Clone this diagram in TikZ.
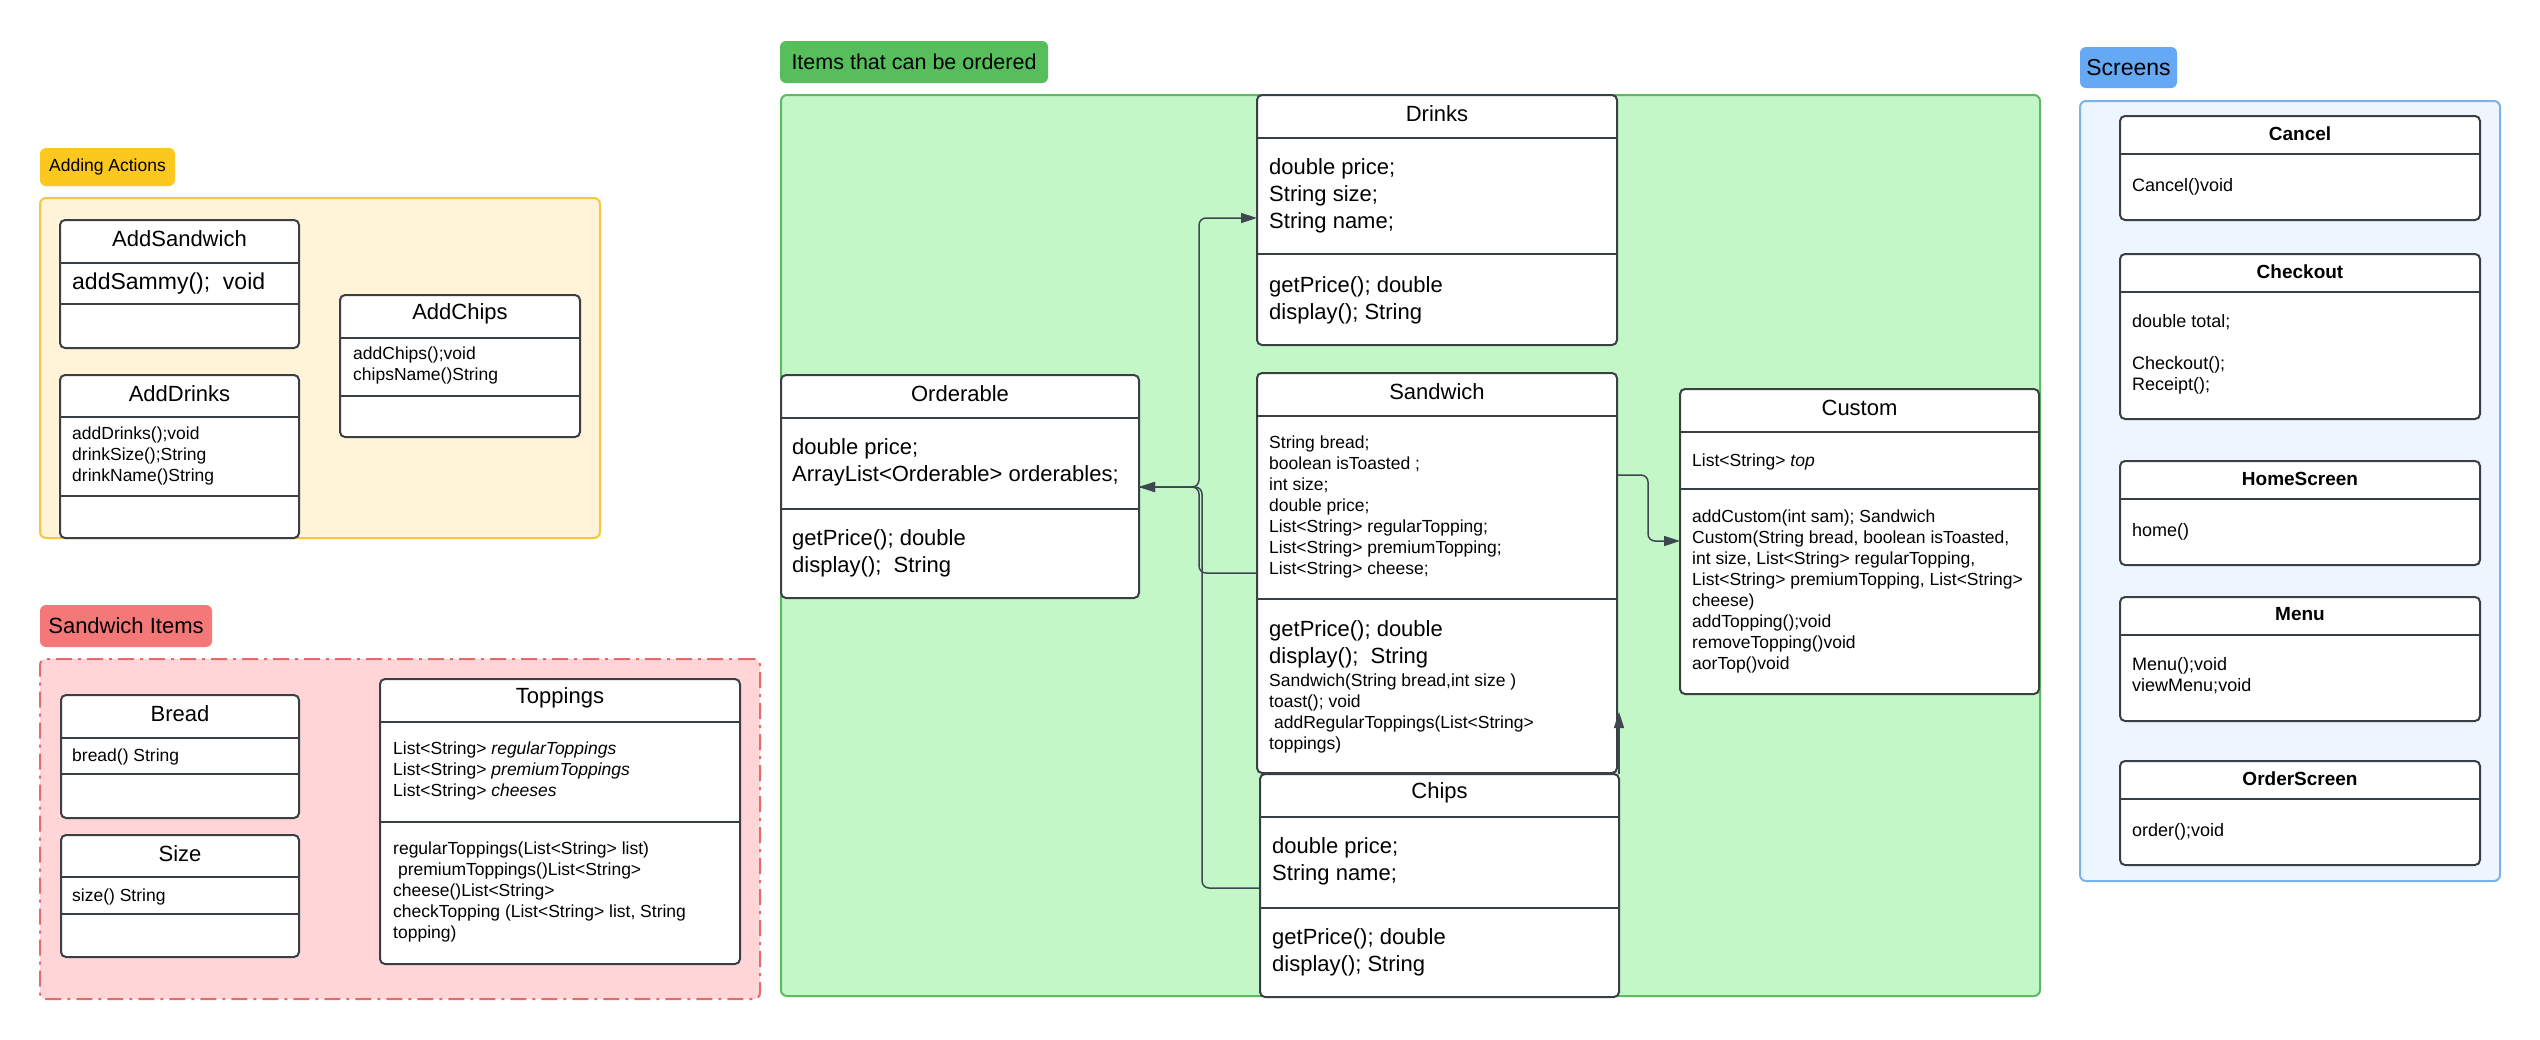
\documentclass[tikz,border=0pt]{standalone}
\usepackage{fontspec}
\setmainfont{Liberation Sans}
\usetikzlibrary{arrows.meta}
\definecolor{boxc}{HTML}{3A3F44}
\definecolor{connc}{HTML}{3E4750}
\definecolor{ylab}{HTML}{FAC81E}
\definecolor{yfill}{HTML}{FFF3D8}
\definecolor{ybord}{HTML}{F6C83C}
\definecolor{rlab}{HTML}{F57878}
\definecolor{rfill}{HTML}{FFD5D8}
\definecolor{rbord}{HTML}{E36B6B}
\definecolor{glab}{HTML}{57BE5C}
\definecolor{gfill}{HTML}{C3F7C8}
\definecolor{gbord}{HTML}{5DBA63}
\definecolor{blab}{HTML}{65A9F5}
\definecolor{bfill}{HTML}{EDF5FF}
\definecolor{bbord}{HTML}{7BB3E9}
\newcommand{\ubox}[5]{\node[ubox, minimum width={(#4-#2)*1pt}, minimum height={(#5-#3)*1pt}] (#1) at ({(#2+#4)/2},{(#3+#5)/2}) {};}
\newcommand{\udiv}[2]{\draw[divl] (#1.west |- 0,#2) -- (#1.east |- 0,#2);}
\newcommand{\utitle}[3]{\node[ttl] (#1-t) at (#1.north |- 0,#2) {#3};}
\newcommand{\stitle}[3]{\node[sttl] (#1-t) at (#1.north |- 0,#2) {#3};}
\begin{document}
\begin{tikzpicture}[x=1pt,y=-1pt,
  ubox/.style={draw=boxc, line width=2pt, fill=white, rounded corners=5pt, inner sep=0pt, outer sep=0pt},
  cont/.style={line width=2pt, rounded corners=6pt, inner sep=0pt, outer sep=0pt},
  lab/.style={rounded corners=6pt, inner sep=0pt, text=black},
  divl/.style={draw=boxc, line width=2pt},
  ttl/.style={font=\fontsize{22}{26}\selectfont, inner sep=0pt, yshift=2.5pt},
  sttl/.style={font=\fontsize{19}{23}\selectfont\bfseries, inner sep=0pt, yshift=1.5pt},
  sm/.style={anchor=north west, inner sep=0pt, align=left, font=\fontsize{17.5}{21}\selectfont, execute at begin node=\strut, yshift=-2.5pt},
  sc/.style={anchor=north west, inner sep=0pt, align=left, font=\fontsize{18}{21}\selectfont, execute at begin node=\strut, yshift=-1.5pt},
  lg/.style={anchor=north west, inner sep=0pt, align=left, font=\fontsize{22}{27}\selectfont, execute at begin node=\strut, yshift=-4pt},
  xl/.style={anchor=north west, inner sep=0pt, align=left, font=\fontsize{23}{27}\selectfont, execute at begin node=\strut},
  conn/.style={draw=connc, line width=1.5pt, rounded corners=7pt, -{Triangle[length=16pt,width=10pt]}},
]
\fill[white] (0,0) rectangle (2540,1039);
\useasboundingbox (0,0) rectangle (2540,1039);

% ---------- containers and labels
\node[cont, fill=yfill, draw=ybord, minimum width=560pt, minimum height=340pt] (grpA) at (320,368) {};
\node[lab, fill=ylab, minimum width=135pt, minimum height=38pt, font=\fontsize{17.5}{21}\selectfont] (labA) at (107.5,167) {Adding Actions};

\node[cont, fill=rfill, draw=rbord, dash pattern=on 16pt off 6pt on 3pt off 6pt, minimum width=720pt, minimum height=340pt] (grpS) at (400,829) {};
\node[lab, fill=rlab, minimum width=172pt, minimum height=42pt, font=\fontsize{22}{26}\selectfont] (labS) at (126,626) {Sandwich Items};

\node[cont, fill=gfill, draw=gbord, minimum width=1259pt, minimum height=901pt] (grpI) at (1410.5,545.5) {};
\node[lab, fill=glab, minimum width=268pt, minimum height=42pt, font=\fontsize{21.5}{26}\selectfont] (labI) at (914,62) {Items that can be ordered};

\node[cont, fill=bfill, draw=bbord, minimum width=420pt, minimum height=780pt] (grpB) at (2290,491) {};
\node[lab, fill=blab, minimum width=97pt, minimum height=41pt, font=\fontsize{23}{27}\selectfont] (labB) at (2128.5,67.5) {Screens};

% ---------- Adding Actions
\ubox{addsandwich}{60}{220}{299}{348}
\udiv{addsandwich}{263}\udiv{addsandwich}{304}
\utitle{addsandwich}{241.5}{AddSandwich}
\node[xl] (addsandwich-m) at (72,270) {addSammy();\ \ void};

\ubox{addchips}{340}{295}{580}{437}
\udiv{addchips}{338}\udiv{addchips}{396}
\utitle{addchips}{316.5}{AddChips}
\node[sm] (addchips-m) at (353,344.5) {addChips();void\\chipsName()String};

\ubox{adddrinks}{60}{375}{299}{538}
\udiv{adddrinks}{417}\udiv{adddrinks}{496}
\utitle{adddrinks}{396}{AddDrinks}
\node[sm] (adddrinks-m) at (72,424.5) {addDrinks();void\\drinkSize();String\\drinkName()String};

% ---------- Sandwich Items
\ubox{bread}{61}{695}{299}{818}
\udiv{bread}{738}\udiv{bread}{774}
\utitle{bread}{716.5}{Bread}
\node[sm] (bread-m) at (72,744.5) {bread() String};

\ubox{size}{61}{835}{299}{957}
\udiv{size}{877}\udiv{size}{914}
\utitle{size}{856}{Size}
\node[sm] (size-m) at (72,884.5) {size() String};

\ubox{toppings}{380}{679}{740}{964}
\udiv{toppings}{722}\udiv{toppings}{822}
\utitle{toppings}{700.5}{Toppings}
\node[sm] (toppings-a) at (393,739.5) {List<String> \textit{regularToppings}\\List<String> \textit{premiumToppings}\\List<String> \textit{cheeses}};
\node[sm] (toppings-m) at (393,839.5) {regularToppings(List<String> list)\\\ premiumToppings()List<String>\\cheese()List<String>\\checkTopping (List<String> list, String\\topping)};

% ---------- Items that can be ordered
\ubox{drinks}{1257}{95}{1617}{345}
\udiv{drinks}{138}\udiv{drinks}{254}
\utitle{drinks}{116.5}{Drinks}
\node[lg] (drinks-a) at (1269,154.7) {double price;\\String size;\\String name;};
\node[lg] (drinks-m) at (1269,272.7) {getPrice(); double\\display(); String};

\ubox{orderable}{781}{375}{1139}{598}
\udiv{orderable}{418}\udiv{orderable}{509}
\utitle{orderable}{396.5}{Orderable}
\node[lg] (orderable-a) at (792,434.7) {double price;\\ArrayList<Orderable> orderables;};
\node[lg] (orderable-m) at (792,525.7) {getPrice(); double\\display();\ \ String};

\ubox{sandwich}{1257}{373}{1617}{773}
\udiv{sandwich}{416}\udiv{sandwich}{599}
\utitle{sandwich}{394.5}{Sandwich}
\node[sm] (sandwich-a) at (1269,433.5) {String bread;\\boolean isToasted ;\\int size;\\double price;\\List<String> regularTopping;\\List<String> premiumTopping;\\List<String> cheese;};
\node[lg] (sandwich-m) at (1269,616.7) {getPrice(); double\\display();\ \ String};
\node[sm] (sandwich-n) at (1269,671.5) {Sandwich(String bread,int size )\\toast(); void\\\ addRegularToppings(List<String>\\toppings)};

\ubox{chips}{1260}{774}{1619}{997}
\udiv{chips}{817}\udiv{chips}{908}
\utitle{chips}{795.5}{Chips}
\node[lg] (chips-a) at (1272,833.7) {double price;\\String name;};
\node[lg] (chips-m) at (1272,924.7) {getPrice(); double\\display(); String};

\ubox{custom}{1680}{389}{2039}{694}
\udiv{custom}{432}\udiv{custom}{489}
\utitle{custom}{410.5}{Custom}
\node[sm] (custom-a) at (1692,449.5) {List<String> \textit{top}};
\node[sm] (custom-m) at (1692,507.5) {addCustom(int sam); Sandwich\\Custom(String bread, boolean isToasted,\\int size, List<String> regularTopping,\\List<String> premiumTopping, List<String>\\cheese)\\addTopping();void\\removeTopping()void\\aorTop()void};

% ---------- Screens
\ubox{cancel}{2120}{116}{2480}{220}
\udiv{cancel}{154}
\stitle{cancel}{135}{Cancel}
\node[sc] (cancel-m) at (2132,174.7) {Cancel()void};

\ubox{checkout}{2120}{254}{2480}{419}
\udiv{checkout}{292}
\stitle{checkout}{273}{Checkout}
\node[sc] (checkout-m) at (2132,312.7) {double total;\\ \\Checkout();\\Receipt();};

\ubox{homescreen}{2120}{461}{2480}{565}
\udiv{homescreen}{499}
\stitle{homescreen}{480}{HomeScreen}
\node[sc] (homescreen-m) at (2132,519.7) {home()};

\ubox{menu}{2120}{597}{2480}{721}
\udiv{menu}{635}
\stitle{menu}{616}{Menu}
\node[sc] (menu-m) at (2132,655.7) {Menu();void\\viewMenu;void};

\ubox{orderscreen}{2120}{761}{2480}{865}
\udiv{orderscreen}{799}
\stitle{orderscreen}{780}{OrderScreen}
\node[sc] (orderscreen-m) at (2132,819.7) {order();void};

% ---------- connectors
\draw[conn] (orderable.east |- 0,487) -- ++(60,0) |- (drinks.west |- 0,218);
\draw[conn] (sandwich.west |- 0,573) -- ++(-58,0) |- (orderable.east |- 0,487);
\draw[conn] (chips.west |- 0,888) -- ++(-58,0) |- (orderable.east |- 0,487);
\draw[conn] (sandwich.east |- 0,475) -- ++(31,0) |- (custom.west |- 0,541);
\draw[conn] (chips.north east) -- ++(0,-62);
\end{tikzpicture}
\end{document}
